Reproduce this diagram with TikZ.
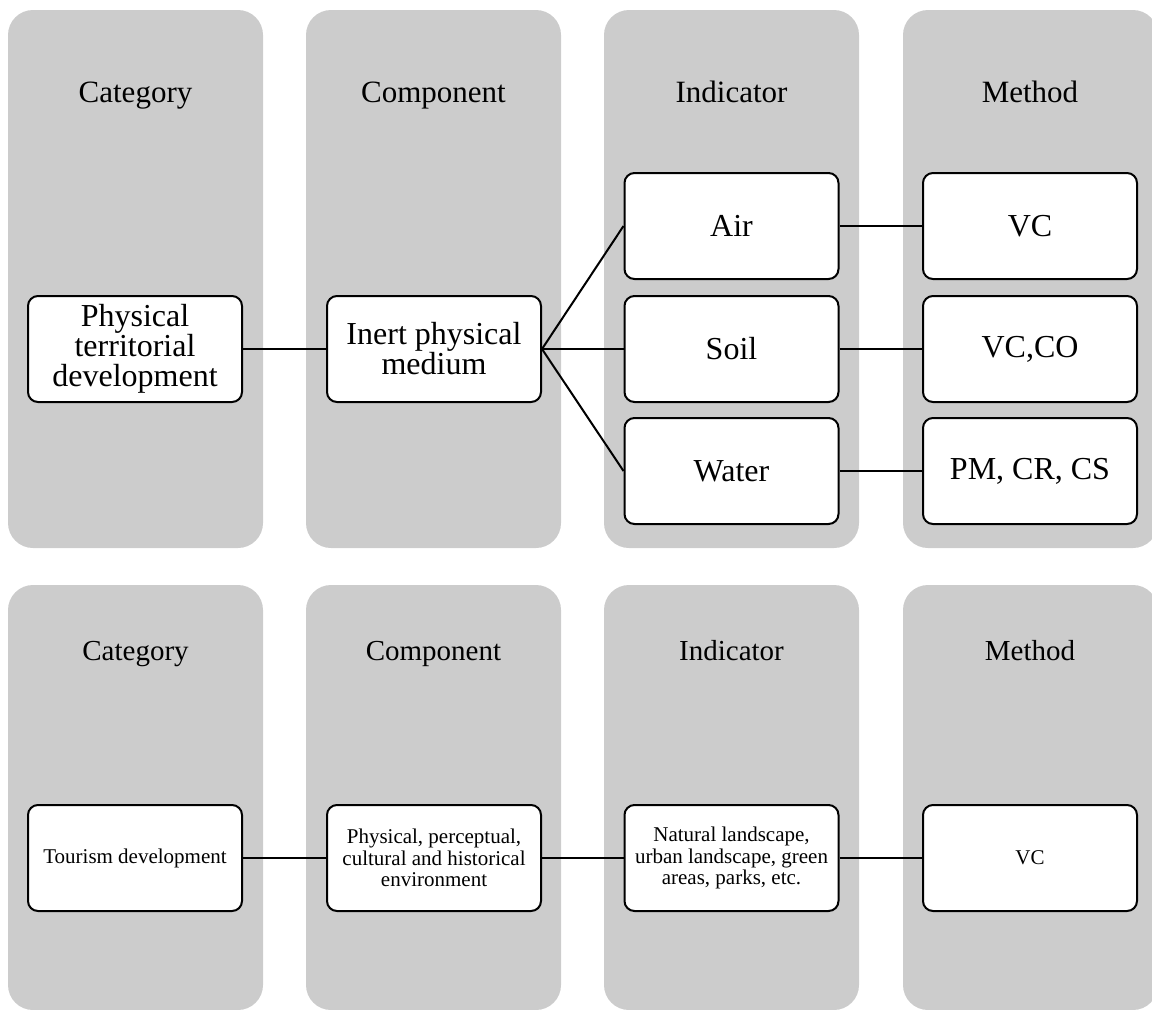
\documentclass[tikz,border=0pt]{standalone}
\usepackage{fontspec}
\setmainfont{Liberation Serif}
\definecolor{panelgray}{HTML}{CCCCCC}
\begin{document}
\begin{tikzpicture}[x=1pt,y=-1pt,
  panel/.style={fill=panelgray,draw=none,rounded corners=25pt},
  head/.style={anchor=base,inner sep=0pt,font=\fontsize{31}{30}\selectfont},
  headsmall/.style={anchor=base,inner sep=0pt,font=\fontsize{29}{28}\selectfont},
  box/.style={draw=black,fill=white,line width=2pt,rounded corners=10pt,
    minimum width=214pt,minimum height=106pt,inner sep=2pt,align=center},
  bigtext/.style={font=\fontsize{32}{30}\selectfont},
  smalltext/.style={font=\fontsize{21}{21.5}\selectfont},
  link/.style={line width=2pt}]
\useasboundingbox (0,0) rectangle (1152,1010);
\begin{scope}
\clip (0,0) rectangle (1152,1010);
% column panels, upper block
\foreach \xl in {8,306,604,903}{
  \fill[panel] (\xl,10) rectangle ++(255,538);
  \fill[panel] (\xl,585) rectangle ++(255,425);
}
\end{scope}
% column headings
\node[head] (h1) at (135.5,102) {Category};
\node[head] (h2) at (433.5,102) {Component};
\node[head] (h3) at (731.5,102) {Indicator};
\node[head] (h4) at (1030,102) {Method};
\node[headsmall] (g1) at (135.5,660) {Category};
\node[headsmall] (g2) at (433.5,660) {Component};
\node[headsmall] (g3) at (731.5,660) {Indicator};
\node[headsmall] (g4) at (1030,660) {Method};
% upper block nodes
\node[box,bigtext] (cat) at (135,349) {Physical\\territorial\\development};
\node[box,bigtext] (comp) at (434,349) {Inert physical\\medium};
\node[box,bigtext] (air) at (731.5,226) {Air};
\node[box,bigtext] (soil) at (731.5,349) {Soil};
\node[box,bigtext] (water) at (731.5,471) {Water};
\node[box,bigtext] (m1) at (1030,226) {VC};
\node[box,bigtext] (m2) at (1030,349) {VC,CO};
\node[box,bigtext] (m3) at (1030,471) {PM, CR, CS};
% lower block nodes
\node[box,smalltext] (tcat) at (135,858) {Tourism development};
\node[box,smalltext] (tcomp) at (434,858) {Physical, perceptual,\\cultural and historical\\environment};
\node[box,smalltext] (tind) at (731.5,858) {Natural landscape,\\urban landscape, green\\areas, parks, etc.};
\node[box,smalltext] (tmet) at (1030,858) {VC};
% connectors
\draw[link] (cat.east) -- (comp.west);
\draw[link] (comp.east) -- (air.west);
\draw[link] (comp.east) -- (soil.west);
\draw[link] (comp.east) -- (water.west);
\draw[link] (air.east) -- (m1.west);
\draw[link] (soil.east) -- (m2.west);
\draw[link] (water.east) -- (m3.west);
\draw[link] (tcat.east) -- (tcomp.west);
\draw[link] (tcomp.east) -- (tind.west);
\draw[link] (tind.east) -- (tmet.west);
\end{tikzpicture}
\end{document}
